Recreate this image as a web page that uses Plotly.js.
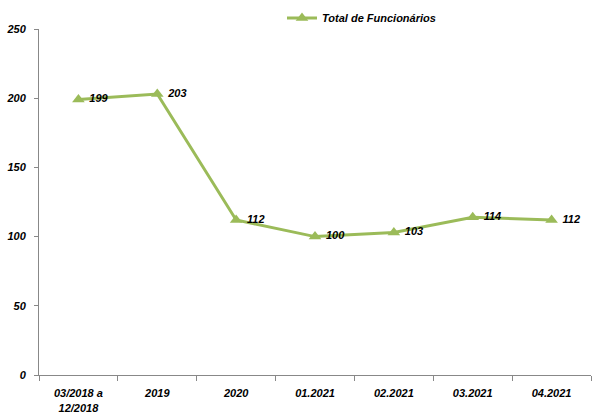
<!DOCTYPE html>
<html>
<head>
<meta charset="utf-8">
<script src="https://cdn.plot.ly/plotly-3.0.1.min.js"></script>
<style>html,body{margin:0;padding:0;background:#fff;}#chart{width:592px;height:414px;}</style>
</head>
<body>
<div id="chart"></div>
<script>
const categories = ["03/2018 a<br>12/2018", "2019", "2020", "01.2021", "02.2021", "03.2021", "04.2021"];
const values = [199, 203, 112, 100, 103, 114, 112];
const seriesName = "Total de Funcionários";
const yTicks = [0, 50, 100, 150, 200, 250];

const fontFamily = "Liberation Sans, Arial, sans-serif";
const labelFont = {family: fontFamily, size: 11, color: "#000", style: "italic", weight: "bold"};

const trace = {
  x: categories,
  y: values,
  name: seriesName,
  type: "scatter",
  mode: "lines+markers+text",
  text: values.map(v => " " + String(v)),
  textposition: "middle right",
  textfont: labelFont,
  line: {color: "#9BBB59", width: 3},
  marker: {symbol: "triangle-up", size: 11, color: "#9BBB59"},
  cliponaxis: false
};

const layout = {
  width: 592, height: 414,
  margin: {l: 39, r: 1, t: 29, b: 39, autoexpand: false},
  paper_bgcolor: "#fff", plot_bgcolor: "#fff",
  showlegend: true,
  legend: {x: 282 / 592, xref: "container", xanchor: "left",
           y: 1 - 18 / 414, yref: "container", yanchor: "middle",
           orientation: "h", itemwidth: 30,
           font: labelFont, bgcolor: "rgba(0,0,0,0)"},
  xaxis: {
    type: "category",
    tickson: "boundaries",
    ticks: "outside", ticklen: 5, tickcolor: "#888",
    showline: true, linecolor: "#888", linewidth: 1,
    showgrid: false, zeroline: false,
    tickfont: labelFont,
    ticklabelstandoff: 8,
    automargin: false,
    range: [-0.5, categories.length - 0.5]
  },
  yaxis: {
    range: [0, 250],
    tickvals: yTicks,
    ticks: "outside", ticklen: 4, tickcolor: "#888",
    showline: true, linecolor: "#888", linewidth: 1,
    showgrid: false, zeroline: false,
    tickfont: labelFont,
    ticklabelstandoff: 6,
    automargin: false
  }
};

Plotly.newPlot("chart", [trace], layout, {displayModeBar: false, staticPlot: true});
</script>
</body>
</html>
